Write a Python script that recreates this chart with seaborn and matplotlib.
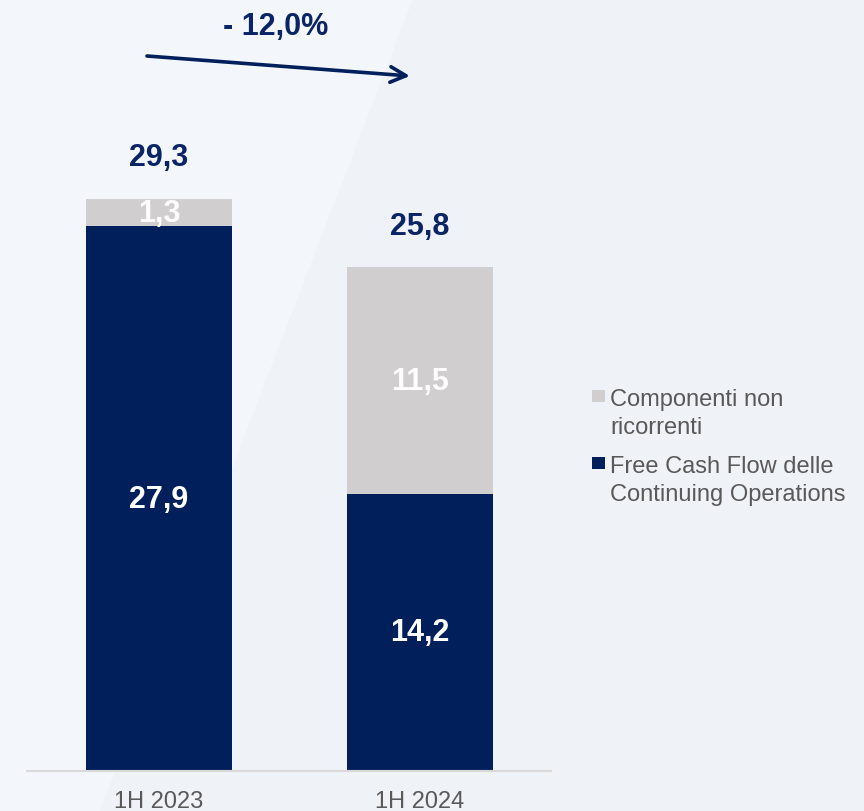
import matplotlib
matplotlib.use("Agg")
import matplotlib.pyplot as plt
from matplotlib.patches import Polygon, Rectangle
import seaborn as sns
import pandas as pd

# ---- data ----
categories = ["1H 2023", "1H 2024"]
fcf_values = [27.9, 14.2]          # Free Cash Flow delle Continuing Operations
noncurrent_values = [1.3, 11.5]    # Componenti non ricorrenti
total_values = [29.3, 25.8]
change_label = "- 12,0%"
legend_labels = ["Componenti non\nricorrenti", "Free Cash Flow delle\nContinuing Operations"]

NAVY = "#001F5B"
GRAY = "#D0CECF"
LABEL_NAVY = "#0B2466"
TEXT_GRAY = "#595959"

sns.set_theme(style="white")
plt.rcParams["font.family"] = ["Liberation Sans", "DejaVu Sans"]

W, H = 864, 812
fig = plt.figure(figsize=(W / 100, H / 100), dpi=100, facecolor="#EFF2F6")
# subtle diagonal lighter background area
fig.patches.append(Polygon([(0, 1), (413 / W, 1), (100 / W, 0), (0, 0)],
                           closed=True, transform=fig.transFigure,
                           facecolor="#F3F6FA", edgecolor="none", zorder=-10))

base_px = 772
ax = fig.add_axes([27 / W, (H - base_px) / H, 524 / W, base_px / H])
ax.set_facecolor("none")

df = pd.DataFrame({"cat": categories, "fcf": fcf_values,
                   "noncur": noncurrent_values, "total": total_values})

sns.barplot(data=df, x="cat", y="total", color=GRAY, saturation=1, width=0.56,
            linewidth=0, edgecolor="none", ax=ax)
sns.barplot(data=df, x="cat", y="fcf", color=NAVY, saturation=1, width=0.56,
            linewidth=0, edgecolor="none", ax=ax)

px_per_unit = 19.52
ax.set_ylim(0, base_px / px_per_unit)
ax.set_xlim(-0.506, 1.502)

for s in ["top", "right", "left"]:
    ax.spines[s].set_visible(False)
ax.spines["bottom"].set_color("#D9D9D9")
ax.spines["bottom"].set_linewidth(1.5)
ax.set_yticks([])
ax.set_xlabel("")
ax.set_ylabel("")
ax.tick_params(axis="x", length=0, pad=14, labelsize=17, labelcolor=TEXT_GRAY)

fmt = lambda v: f"{v:.1f}".replace(".", ",")
for i in range(len(categories)):
    f, n, t = fcf_values[i], noncurrent_values[i], total_values[i]
    ax.text(i, f / 2, fmt(f), ha="center", va="center", color="white",
            fontsize=22, fontweight="bold")
    ax.text(i, f + (t - f) / 2, fmt(n), ha="center", va="center", color="white",
            fontsize=22, fontweight="bold")
    ax.annotate(fmt(t), (i, t), xytext=(0, 30), textcoords="offset points",
                ha="center", va="center", color=LABEL_NAVY, fontsize=22, fontweight="bold")

# change arrow
def to_data(px, py):
    return ((px - 27) / 261 - 0.506, (base_px - py) / px_per_unit)

ax.annotate("", xy=to_data(410, 77), xytext=to_data(147, 57),
            arrowprops=dict(arrowstyle="->", lw=2.6, color=NAVY, mutation_scale=28,
                            shrinkA=0, shrinkB=0), annotation_clip=False)
ax.text(*to_data(276, 27), change_label, ha="center", va="center", color=LABEL_NAVY,
        fontsize=22, fontweight="bold", clip_on=False)

# legend (squares aligned to first text line)
legend_colors = [GRAY, NAVY]
legend_tops = [391, 458]
for lab, col, top in zip(legend_labels, legend_colors, legend_tops):
    fig.patches.append(Rectangle((592 / W, 1 - (top + 12) / H), 13 / W, 12 / H,
                                 transform=fig.transFigure, facecolor=col, edgecolor="none"))
    fig.text(610 / W, 1 - (top - 2) / H, lab, ha="left", va="top", fontsize=17,
             color=TEXT_GRAY, linespacing=1.38)

fig.savefig("out.png", dpi=100, facecolor=fig.get_facecolor())
